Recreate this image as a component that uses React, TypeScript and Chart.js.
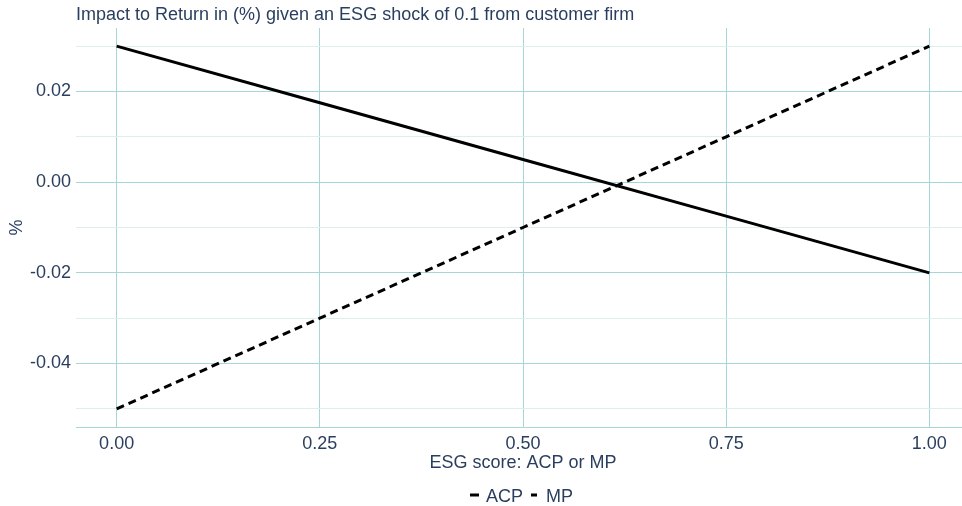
import React, { useEffect, useRef } from "react";
import { Chart, registerables } from "chart.js";

Chart.register(...registerables);

// ---- data ----
const xValues = [0, 0.25, 0.5, 0.75, 1];
const acpValues = [0.03, 0.0175, 0.005, -0.0075, -0.02];
const mpValues = [-0.05, -0.03, -0.01, 0.01, 0.03];
const seriesNames = ["ACP", "MP"];
const xTickValues = [0, 0.25, 0.5, 0.75, 1];
const yGridValues = [-0.05, -0.04, -0.03, -0.02, -0.01, 0, 0.01, 0.02, 0.03];
const yLabelValues = [-0.04, -0.02, 0, 0.02];
const titleText = "Impact to Return in (%) given an ESG shock of 0.1 from customer firm";
const xAxisTitle = "ESG score: ACP or MP";
const yAxisTitle = "%";

// ---- styles ----
const FONT = '"Liberation Sans", Arial, sans-serif';
const TEXT = "#2a3f5f";
const MAJOR = "#a6d7d7";
const MINOR = "#dcefee";

const isLabelled = (v: number) => yLabelValues.some((l) => Math.abs(l - v) < 1e-9);

const textPlugin = {
  id: "customTexts",
  afterDraw(chart: any) {
    const { ctx, chartArea } = chart;
    ctx.save();
    ctx.fillStyle = TEXT;
    ctx.font = `18px ${FONT}`;
    // title
    ctx.textAlign = "left";
    ctx.textBaseline = "alphabetic";
    ctx.fillText(titleText, chartArea.left, 20);
    // x axis title
    const cx = (chartArea.left + chartArea.right) / 2;
    ctx.textAlign = "center";
    ctx.fillText(xAxisTitle, cx, 468);
    // y axis title
    ctx.save();
    ctx.translate(17, (chartArea.top + chartArea.bottom) / 2);
    ctx.rotate(-Math.PI / 2);
    ctx.textBaseline = "middle";
    ctx.textAlign = "center";
    ctx.fillText(yAxisTitle, 0, 0);
    ctx.restore();
    // legend
    const ly = 495;
    ctx.strokeStyle = "#000";
    ctx.lineWidth = 3;
    ctx.beginPath();
    ctx.moveTo(cx - 53, ly);
    ctx.lineTo(cx - 44, ly);
    ctx.stroke();
    ctx.beginPath();
    ctx.moveTo(cx + 8, ly);
    ctx.lineTo(cx + 14, ly);
    ctx.stroke();
    ctx.textAlign = "left";
    ctx.textBaseline = "alphabetic";
    ctx.fillText(seriesNames[0], cx - 37, 502);
    ctx.fillText(seriesNames[1], cx + 23, 502);
    ctx.restore();
  },
};

export default function App() {
  const canvasRef = useRef<HTMLCanvasElement | null>(null);

  useEffect(() => {
    if (!canvasRef.current) return;
    Chart.defaults.font.family = FONT;
    const chart = new Chart(canvasRef.current, {
      type: "line",
      data: {
        datasets: [
          {
            label: seriesNames[0],
            data: xValues.map((x, i) => ({ x, y: acpValues[i] })),
            borderColor: "#000",
            backgroundColor: "#000",
            borderWidth: 3,
            pointRadius: 0,
            fill: false,
            tension: 0,
          },
          {
            label: seriesNames[1],
            data: xValues.map((x, i) => ({ x, y: mpValues[i] })),
            borderColor: "#000",
            backgroundColor: "#000",
            borderWidth: 3,
            borderDash: [8, 5],
            pointRadius: 0,
            fill: false,
            tension: 0,
          },
        ],
      },
      options: {
        responsive: false,
        animation: false,
        layout: { padding: { top: 28, left: 0, right: 0, bottom: 0 } },
        plugins: {
          legend: { display: false },
          title: { display: false },
          tooltip: { enabled: false },
        },
        scales: {
          x: {
            type: "linear",
            min: -0.05,
            max: 1.05,
            afterFit: (s: any) => {
              s.height = 79;
            },
            afterBuildTicks: (s: any) => {
              s.ticks = xTickValues.map((v) => ({ value: v }));
            },
            ticks: {
              color: TEXT,
              font: { size: 18, family: FONT },
              padding: 6,
              maxRotation: 0,
              autoSkip: false,
              callback: (v: any) => Number(v).toFixed(2),
            },
            grid: { color: MAJOR, lineWidth: 1, drawTicks: false },
            border: { display: true, color: MAJOR, width: 1 },
          },
          y: {
            type: "linear",
            min: -0.054,
            max: 0.034,
            afterFit: (s: any) => {
              s.width = 76;
            },
            afterBuildTicks: (s: any) => {
              s.ticks = yGridValues.map((v) => ({ value: v }));
            },
            ticks: {
              color: TEXT,
              font: { size: 18, family: FONT },
              padding: 5,
              autoSkip: false,
              callback: (v: any) => (isLabelled(Number(v)) ? Number(v).toFixed(2) : ""),
            },
            grid: {
              color: (c: any) => (c.tick && isLabelled(c.tick.value) ? MAJOR : MINOR),
              lineWidth: 1,
              drawTicks: false,
            },
            border: { display: false },
          },
        },
      },
      plugins: [textPlugin],
    });
    return () => chart.destroy();
  }, []);

  return (
    <div
      style={{
        position: "absolute",
        left: 0,
        top: 0,
        width: 962,
        height: 506,
        overflow: "hidden",
        background: "#fff",
      }}
    >
      <canvas ref={canvasRef} width={970} height={506} style={{ display: "block" }} />
    </div>
  );
}
